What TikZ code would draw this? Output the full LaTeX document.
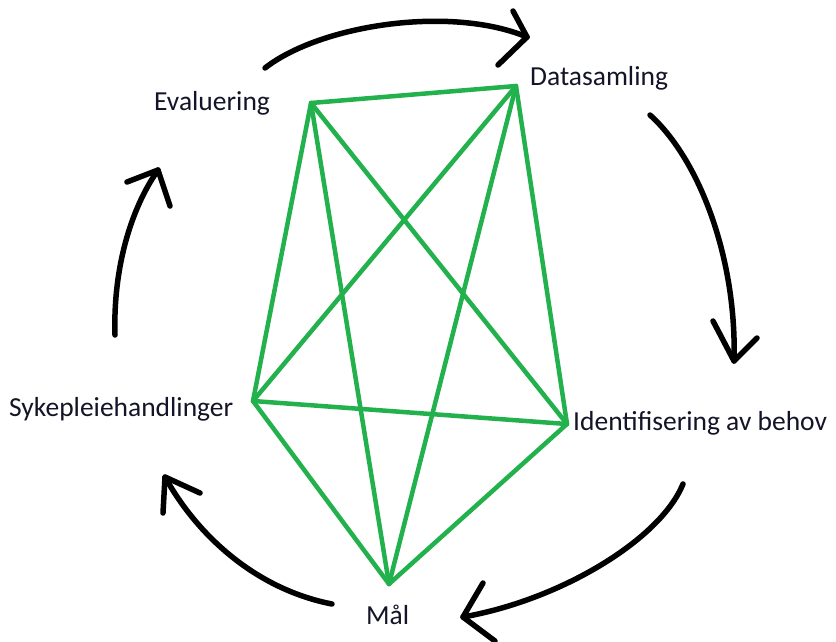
\documentclass[tikz,border=0pt]{standalone}
\usepackage{fontspec}
\setmainfont{Carlito}
\definecolor{paintgreen}{RGB}{34,177,76}
\definecolor{txt}{RGB}{20,20,40}
\begin{document}
\begin{tikzpicture}[x=1pt,y=-1pt,
  lbl/.style={anchor=base west,inner sep=0pt,text=txt,font=\fontsize{27.5}{31}\selectfont},
  edge/.style={draw=paintgreen,line width=4.5pt,line cap=round,line join=round},
  cyc/.style={draw=black,line width=5.5pt,line cap=round,line join=round}]
\useasboundingbox (0,0) rectangle (836,641);
\fill[white] (0,0) rectangle (836,641);
% labels
\node[lbl] (eval) at (154,110) {Evaluering};
\node[lbl] (data) at (530,85) {Datasamling};
\node[lbl] (ident) at (573,430) {Identifisering av behov};
\node[lbl] (syke) at (9,416) {Sykepleiehandlinger};
\node[lbl] (maal) at (366,624) {Mål};
% vertices
\coordinate (vE) at (311,103);
\coordinate (vD) at (516,86);
\coordinate (vI) at (567,424);
\coordinate (vM) at (389,584);
\coordinate (vS) at (253,401);
% complete graph
\draw[edge] (vE) -- (vD) -- (vI) -- (vM) -- (vS) -- cycle;
\draw[edge] (vE) -- (vI);
\draw[edge] (vE) -- (vM);
\draw[edge] (vD) -- (vS);
\draw[edge] (vD) -- (vM);
\draw[edge] (vS) -- (vI);
% cycle arrows
\coordinate (a1s) at (265,68);  \coordinate (a1t) at (527,37);
\coordinate (a1p) at (513,11);  \coordinate (a1q) at (498,65);
\coordinate (a2s) at (650,115); \coordinate (a2t) at (734,361);
\coordinate (a2p) at (713,321); \coordinate (a2q) at (757,338);
\coordinate (a3s) at (683,484); \coordinate (a3t) at (463,617);
\coordinate (a3p) at (483,583); \coordinate (a3q) at (495,641);
\coordinate (a4s) at (332,604); \coordinate (a4t) at (165,477);
\coordinate (a4p) at (163,513); \coordinate (a4q) at (200,493);
\coordinate (a5s) at (115,335); \coordinate (a5t) at (158,170);
\coordinate (a5p) at (127,182); \coordinate (a5q) at (170,206);
\draw[cyc] (a1s) .. controls (320,25) and (450,5) .. (a1t);
\draw[cyc] (a1p) -- (a1t) -- (a1q);
\draw[cyc] (a2s) .. controls (700,160) and (737,260) .. (a2t);
\draw[cyc] (a2p) -- (a2t) -- (a2q);
\draw[cyc] (a3s) .. controls (660,540) and (560,600) .. (a3t);
\draw[cyc] (a3p) -- (a3t) -- (a3q);
\draw[cyc] (a4s) .. controls (260,590) and (200,540) .. (a4t);
\draw[cyc] (a4p) -- (a4t) -- (a4q);
\draw[cyc] (a5s) .. controls (113,270) and (130,210) .. (a5t);
\draw[cyc] (a5p) -- (a5t) -- (a5q);
\end{tikzpicture}
\end{document}
